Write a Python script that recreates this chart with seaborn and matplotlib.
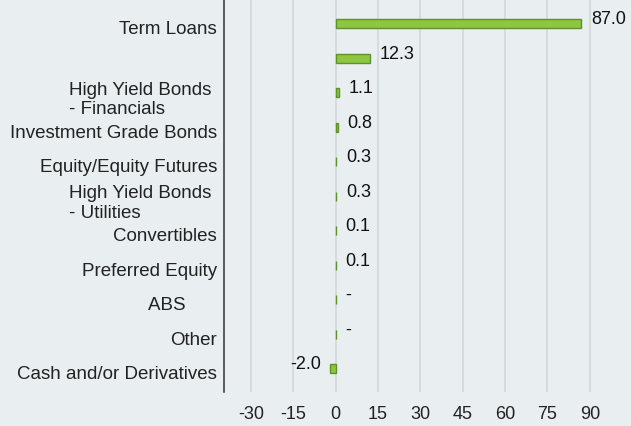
import numpy as np
import pandas as pd
import matplotlib
matplotlib.use("Agg")
import matplotlib.pyplot as plt
import matplotlib.transforms as mtransforms
import seaborn as sns

# data
categories = [
    "Term Loans",
    "",
    "High Yield Bonds \n- Financials",
    "Investment Grade Bonds",
    "Equity/Equity Futures",
    "High Yield Bonds \n- Utilities",
    "Convertibles",
    "Preferred Equity",
    "ABS      ",
    "Other",
    "Cash and/or Derivatives",
]
values = [87.0, 12.3, 1.1, 0.8, 0.3, 0.3, 0.1, 0.1, 0.0, 0.0, -2.0]
value_labels = ["87.0", "12.3", "1.1", "0.8", "0.3", "0.3", "0.1", "0.1", "-", "-", "-2.0"]
x_ticks = [-30, -15, 0, 15, 30, 45, 60, 75, 90]

bg = "#e9eef0"
grid_col = "#cfd4d6"

sns.set_style("white", {"axes.facecolor": bg, "figure.facecolor": bg})
plt.rcParams["font.family"] = ["Liberation Sans", "DejaVu Sans"]

df = pd.DataFrame({"cat": [f"c{i}" for i in range(len(values))], "val": values})

fig = plt.figure(figsize=(6.31, 4.26), dpi=100)
ax = fig.add_axes([224 / 631, 34 / 426, (618 - 224) / 631, 392 / 426])

sns.barplot(data=df, x="val", y="cat", orient="h", width=0.26,
            color="#8dc641", saturation=1, edgecolor="#5f9329", linewidth=1.0, ax=ax)

ax.set_xlim(-39.5, 100)
ax.set_ylim(10.675, -0.687)
ax.set_xlabel("")
ax.set_ylabel("")

ax.set_xticks(x_ticks)
ax.set_xticklabels([str(t) for t in x_ticks])
ax.xaxis.grid(True, color=grid_col, linewidth=1.1)
ax.set_axisbelow(True)
ax.tick_params(axis="x", length=6, width=1.1, color=grid_col, labelsize=13, pad=4, colors="#222222")
ax.tick_params(axis="x", color=grid_col)

ax.set_yticks(range(len(categories)))
ax.set_yticklabels(categories, fontsize=13.5, color="#222222")
ax.tick_params(axis="y", length=0, pad=5)
shift = mtransforms.ScaledTranslation(0, -3 / 72, fig.dpi_scale_trans)
for lab in ax.get_yticklabels():
    lab.set_multialignment("left")
    lab.set_transform(lab.get_transform() + shift)

for s in ["top", "right", "bottom"]:
    ax.spines[s].set_visible(False)
ax.spines["left"].set_color("#333333")
ax.spines["left"].set_linewidth(1.1)

for i, (v, t) in enumerate(zip(values, value_labels)):
    if v < 0:
        ax.annotate(t, (v, i), xytext=(-6.5, 3), textcoords="offset points",
                    ha="right", va="center", fontsize=13, color="#111111")
    else:
        ax.annotate(t, (v, i), xytext=(7, 3), textcoords="offset points",
                    ha="left", va="center", fontsize=13, color="#111111")

fig.savefig("out.png", dpi=100, facecolor=bg)
